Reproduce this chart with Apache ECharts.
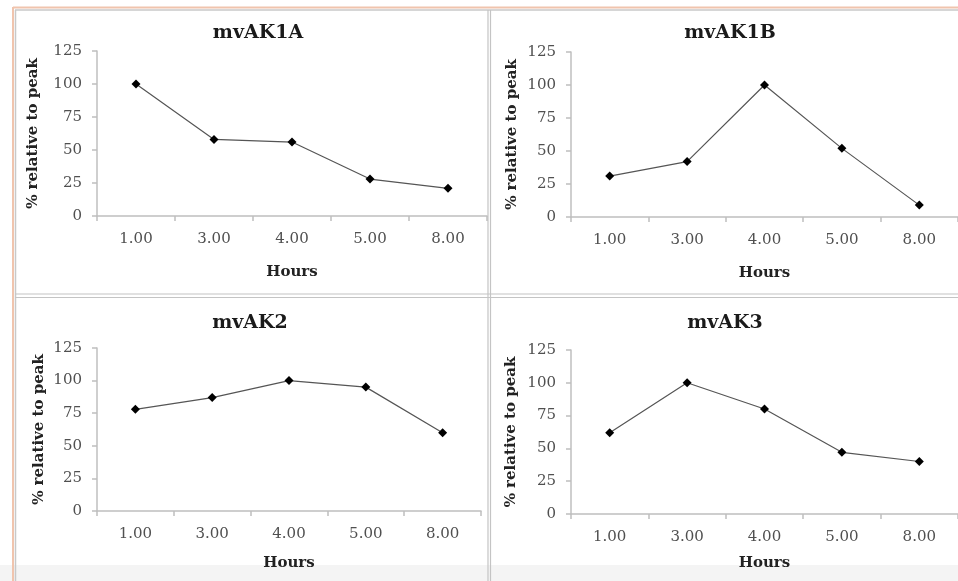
<!DOCTYPE html>
<html>
<head>
<meta charset="utf-8">
<script src="https://cdn.jsdelivr.net/npm/echarts@6/dist/echarts.min.js"></script>
<style>
html,body{margin:0;padding:0;background:#fff;}
#chart{width:958px;height:581px;}
</style>
</head>
<body>
<div id="chart"></div>
<script>
// ---- data ----
const hours = ['1.00', '3.00', '4.00', '5.00', '8.00'];
const titles = ['mvAK1A', 'mvAK1B', 'mvAK2', 'mvAK3'];
const mvAK1A = [100, 58, 56, 28, 21];
const mvAK1B = [31, 42, 100, 52, 9];
const mvAK2 = [78, 87, 100, 95, 60];
const mvAK3 = [62, 100, 80, 47, 40];
const yTicks = [0, 25, 50, 75, 100, 125];
const xName = 'Hours';
const yName = '% relative to peak';

const seriesData = [mvAK1A, mvAK1B, mvAK2, mvAK3];

// ---- layout ----
const grids = [
  {left: 97, top: 51, width: 390, height: 165},
  {left: 571, top: 52, width: 392, height: 165},
  {left: 97, top: 348, width: 384, height: 163},
  {left: 571, top: 350, width: 391, height: 164}
];
const titlePos = [[253, 19], [725, 19], [245, 309], [720, 309]];
const xGap = [49, 49, 45, 42];
const yGap = [56, 51, 50, 52];

const SERIF = '"DejaVu Serif", "Liberation Serif", serif';
const lblColor = '#505050';
const axisColor = '#bfbfbf';

const chart = echarts.init(document.getElementById('chart'), null, {renderer: 'canvas'});

const option = {
  backgroundColor: '#ffffff',
  animation: false,
  title: titles.map((t, i) => ({
    text: t,
    left: titlePos[i][0],
    top: titlePos[i][1],
    textAlign: 'center',
    textStyle: {fontFamily: SERIF, fontWeight: 'bold', fontSize: 19, color: '#1a1a1a'}
  })),
  grid: grids.map(g => Object.assign({containLabel: false}, g)),
  xAxis: grids.map((g, i) => ({
    type: 'category',
    gridIndex: i,
    data: hours,
    boundaryGap: true,
    name: xName,
    nameLocation: 'middle',
    nameGap: xGap[i],
    nameTextStyle: {fontFamily: SERIF, fontWeight: 'bold', fontSize: 15, color: '#222'},
    axisLine: {show: true, lineStyle: {color: axisColor, width: 1.5}},
    axisTick: {show: true, alignWithLabel: false, length: 5, lineStyle: {color: axisColor, width: 1.5}},
    axisLabel: {fontFamily: SERIF, fontSize: 15, color: lblColor, margin: 16},
    splitLine: {show: false}
  })),
  yAxis: grids.map((g, i) => ({
    type: 'value',
    gridIndex: i,
    min: yTicks[0],
    max: yTicks[yTicks.length - 1],
    interval: yTicks[1] - yTicks[0],
    name: yName,
    nameLocation: 'middle',
    nameGap: yGap[i],
    nameRotate: 90,
    nameTextStyle: {fontFamily: SERIF, fontWeight: 'bold', fontSize: 15, color: '#222'},
    axisLine: {show: true, lineStyle: {color: axisColor, width: 1.5}},
    axisTick: {show: true, length: 5, lineStyle: {color: axisColor, width: 1.5}},
    axisLabel: {fontFamily: SERIF, fontSize: 15, color: lblColor, margin: 15},
    splitLine: {show: false}
  })),
  series: seriesData.map((d, i) => ({
    type: 'line',
    xAxisIndex: i,
    yAxisIndex: i,
    data: d,
    symbol: 'diamond',
    symbolSize: 9,
    itemStyle: {color: '#000'},
    lineStyle: {color: '#555', width: 1.2},
    z: 5
  })),
  graphic: [
    // bottom light band
    {type: 'rect', z: -10, shape: {x: 0, y: 565, width: 958, height: 16}, style: {fill: '#f4f4f4'}},
    // top orange line and gray line
    {type: 'line', shape: {x1: 13, y1: 7.5, x2: 958, y2: 7.5}, style: {stroke: '#f0c4ad', lineWidth: 2}},
    {type: 'line', shape: {x1: 15, y1: 10, x2: 958, y2: 10}, style: {stroke: '#c8c8c8', lineWidth: 1.5}},
    // left orange line and gray line
    {type: 'line', shape: {x1: 13, y1: 7, x2: 13, y2: 581}, style: {stroke: '#f0c4ad', lineWidth: 2}},
    {type: 'line', shape: {x1: 15.5, y1: 10, x2: 15.5, y2: 581}, style: {stroke: '#c8c8c8', lineWidth: 1.5}},
    // vertical divider
    {type: 'line', shape: {x1: 488, y1: 10, x2: 488, y2: 581}, style: {stroke: '#c4c4c4', lineWidth: 1.2}},
    {type: 'line', shape: {x1: 490.5, y1: 10, x2: 490.5, y2: 581}, style: {stroke: '#c4c4c4', lineWidth: 1.2}},
    // horizontal divider
    {type: 'line', shape: {x1: 15, y1: 294, x2: 958, y2: 294}, style: {stroke: '#c4c4c4', lineWidth: 1.2}},
    {type: 'line', shape: {x1: 15, y1: 297.5, x2: 958, y2: 297.5}, style: {stroke: '#c4c4c4', lineWidth: 1.2}}
  ]
};

chart.setOption(option);
</script>
</body>
</html>
